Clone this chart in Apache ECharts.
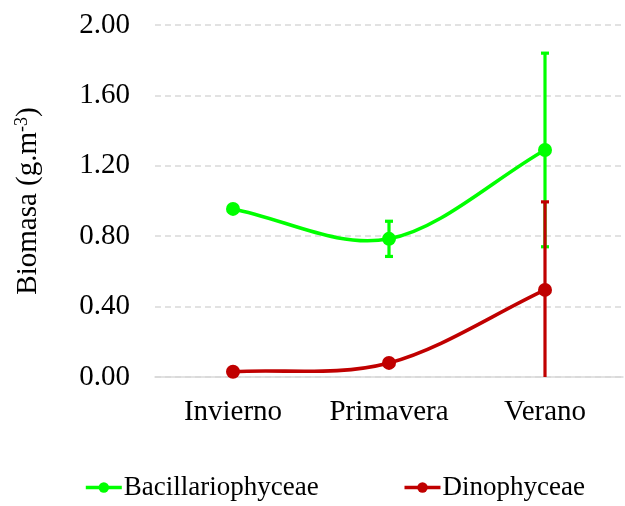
<!DOCTYPE html>
<html>
<head>
<meta charset="utf-8">
<script src="https://cdn.jsdelivr.net/npm/echarts@6/dist/echarts.min.js"></script>
<style>html,body{margin:0;padding:0;background:#fff}#c{width:625px;height:506px}</style>
</head>
<body>
<div id="c"></div>
<script>
const categories = ['Invierno', 'Primavera', 'Verano'];
const bacValues = [0.955, 0.785, 1.29];
const bacErrors = [0, 0.10, 0.55];
const dinoValues = [0.03, 0.08, 0.495];
const dinoErrors = [0, 0, 0.50];
const yTicks = [0, 0.4, 0.8, 1.2, 1.6, 2.0];

const GREEN = '#00ff00';
const RED = '#c00000';
const FONT = '"Liberation Serif", "Times New Roman", serif';
const FS = 29;

function errData(vals, errs) {
  return vals.map((v, i) => [i, Math.max(0, v - errs[i]), v + errs[i], errs[i]]);
}
function errRender(color) {
  return function (params, api) {
    if (api.value(3) === 0) return null;
    const x = api.value(0);
    const lo = api.coord([x, api.value(1)]);
    const hi = api.coord([x, api.value(2)]);
    const w = 4;
    const style = { stroke: color, lineWidth: 3.2 };
    const children = [
      { type: 'line', shape: { x1: lo[0], y1: lo[1], x2: hi[0], y2: hi[1] }, style: style },
      { type: 'line', shape: { x1: hi[0] - w, y1: hi[1], x2: hi[0] + w, y2: hi[1] }, style: style }
    ];
    if (api.value(1) > 0) {
      children.push({ type: 'line', shape: { x1: lo[0] - w, y1: lo[1], x2: lo[0] + w, y2: lo[1] }, style: style });
    }
    return { type: 'group', children: children };
  };
}
// Catmull-Rom smoothed segment between point i and i+1 (reflected phantom end points)
function segData(vals) {
  return vals.slice(0, -1).map((v, i) => [i, v, vals[i + 1]]);
}
function segRender(vals, color) {
  return function (params, api) {
    const i = api.value(0);
    const n = vals.length;
    const P = j => api.coord([j, vals[j]]);
    const p1 = P(i), p2 = P(i + 1);
    const p0 = i - 1 >= 0 ? P(i - 1) : [2 * p1[0] - p2[0], 2 * p1[1] - p2[1]];
    const p3 = i + 2 < n ? P(i + 2) : [2 * p2[0] - p1[0], 2 * p2[1] - p1[1]];
    const k = 1 / 6;
    const c1 = [p1[0] + (p2[0] - p0[0]) * k, p1[1] + (p2[1] - p0[1]) * k];
    const c2 = [p2[0] - (p3[0] - p1[0]) * k, p2[1] - (p3[1] - p1[1]) * k];
    return {
      type: 'bezierCurve',
      shape: { x1: p1[0], y1: p1[1], x2: p2[0], y2: p2[1], cpx1: c1[0], cpy1: c1[1], cpx2: c2[0], cpy2: c2[1] },
      style: { stroke: color, lineWidth: 3.6, fill: null }
    };
  };
}

const chart = echarts.init(document.getElementById('c'), null, { renderer: 'canvas' });
chart.setOption({
  animation: false,
  textStyle: { fontFamily: FONT },
  grid: { left: 155, right: 2, top: 25, bottom: 129, containLabel: false, outerBoundsMode: 'none' },
  legend: {
    bottom: 0,
    left: 79,
    itemWidth: 36,
    itemHeight: 13,
    itemGap: 84,
    lineStyle: { width: 3.6, opacity: 1 },
    textStyle: { fontFamily: FONT, fontSize: 27, color: '#000', padding: [0, 0, 0, -3] },
    data: ['Bacillariophyceae', 'Dinophyceae']
  },
  xAxis: {
    type: 'category',
    data: categories,
    axisLine: { lineStyle: { color: '#d9d9d9', width: 1.5 } },
    axisTick: { show: false },
    axisLabel: { fontFamily: FONT, fontSize: FS, color: '#000', margin: 21, interval: 0 }
  },
  yAxis: {
    type: 'value',
    min: yTicks[0],
    max: yTicks[yTicks.length - 1],
    interval: 0.4,
    name: '{n|Biomasa (g.m}{s|-3}{n|)}',
    nameLocation: 'middle',
    nameRotate: 90,
    nameGap: 112,
    nameTextStyle: {
      rich: {
        n: { fontFamily: FONT, fontSize: FS, color: '#000' },
        s: { fontFamily: FONT, fontSize: 18, color: '#000', padding: [0, 0, 12, 0] }
      }
    },
    axisLine: { show: false },
    axisTick: { show: false },
    splitLine: { lineStyle: { color: '#d9d9d9', type: [6, 4], width: 1.5 } },
    axisLabel: {
      fontFamily: FONT, fontSize: FS, color: '#000', margin: 25,
      formatter: v => v.toFixed(2)
    }
  },
  series: [
    {
      type: 'custom', renderItem: segRender(bacValues, GREEN), data: segData(bacValues),
      encode: { x: 0, y: [1, 2] }, z: 2, silent: true
    },
    {
      type: 'custom', renderItem: segRender(dinoValues, RED), data: segData(dinoValues),
      encode: { x: 0, y: [1, 2] }, z: 2, silent: true
    },
    {
      name: 'Bacillariophyceae', type: 'line', data: bacValues,
      symbol: 'circle', symbolSize: 14, z: 4,
      itemStyle: { color: GREEN }, lineStyle: { color: GREEN, width: 3.6, opacity: 0 }
    },
    {
      name: 'Dinophyceae', type: 'line', data: dinoValues,
      symbol: 'circle', symbolSize: 14, z: 4,
      itemStyle: { color: RED }, lineStyle: { color: RED, width: 3.6, opacity: 0 }
    },
    {
      type: 'custom', renderItem: errRender(GREEN), data: errData(bacValues, bacErrors),
      encode: { x: 0, y: [1, 2] }, z: 3, silent: true
    },
    {
      type: 'custom', renderItem: errRender(RED), data: errData(dinoValues, dinoErrors),
      encode: { x: 0, y: [1, 2] }, z: 5, silent: true
    }
  ]
});
</script>
</body>
</html>
